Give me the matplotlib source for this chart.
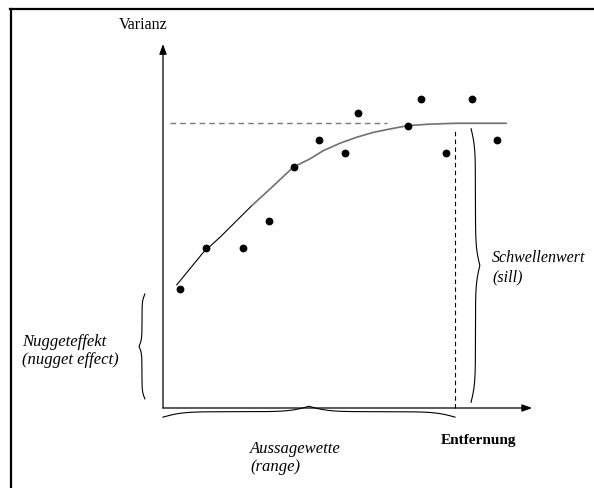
import numpy as np
import matplotlib.pyplot as plt
from matplotlib.lines import Line2D

# empirical semivariogram points (distance, variance)
dist = [0.58, 1.46, 2.75, 3.62, 4.50, 5.35, 6.23, 6.67, 8.40, 8.84, 9.69, 10.58, 11.45]
varianz = [4.18, 5.60, 5.60, 6.56, 8.47, 9.40, 8.95, 10.35, 9.91, 10.85, 8.95, 10.85, 9.40]

# fitted model curve
model_h = [0.47, 1.38, 1.95, 2.52, 3.04, 3.66, 4.46, 5.03, 5.49, 6.06, 6.63, 7.20,
           7.77, 8.40, 9.14, 10.00, 11.75]
model_g = [4.32, 5.46, 5.99, 6.57, 7.10, 7.68, 8.45, 8.74, 9.03, 9.29, 9.50, 9.67,
           9.79, 9.91, 9.96, 9.99, 9.99]

nugget = 4.0
sill = 10.0
reichweite = 10.0

serif = ['Liberation Serif', 'DejaVu Serif']


def brace(ax, p0, p1, depth, beta=30, **kw):
    # curly brace from p0 to p1, bulging to the side given by the sign of depth
    p0, p1 = np.asarray(p0, float), np.asarray(p1, float)
    t = np.linspace(0, 0.5, 100)
    half = 1 / (1 + np.exp(-beta * (t - t[0]))) + 1 / (1 + np.exp(-beta * (t - t[-1])))
    off = np.concatenate([half, half[-2::-1]])
    off = (off - off[0]) / (off.max() - off[0])
    s = np.linspace(0, 1, len(off))
    d = p1 - p0
    n = np.array([-d[1], d[0]]) / np.hypot(*d)
    pts = p0 + np.outer(s, d) + np.outer(off * depth, n)
    ax.plot(pts[:, 0], pts[:, 1], **kw)


fig = plt.figure(figsize=(5.94, 4.89), dpi=100)
ax = fig.add_axes([0, 0, 1, 1])
ax.set_xlim(-5.582, 14.760)
ax.set_ylim(-2.807, 14.351)
ax.axis('off')

# outer frame (top and left only)
fig.add_artist(Line2D([10 / 594, 1], [1 - 9.5 / 489] * 2, transform=fig.transFigure,
                      color='black', lw=1.6))
fig.add_artist(Line2D([11 / 594] * 2, [0, 1 - 9.5 / 489], transform=fig.transFigure,
                      color='black', lw=1.6))

# axes with arrows
arrow = dict(arrowstyle='-|>,head_length=0.6,head_width=0.22', color='black', lw=0.9,
             shrinkA=0, shrinkB=0)
ax.annotate('', xy=(0, 12.77), xytext=(0, 0), arrowprops=arrow)
ax.annotate('', xy=(12.64, 0), xytext=(0, 0), arrowprops=arrow)

# sill and range guide lines
ax.plot([0.24, 7.67], [sill, sill], color='#7a7a7a', lw=1, dashes=(4, 3))
ax.plot([reichweite, reichweite], [0, 9.79], color='black', lw=0.8, dashes=(4, 3))

# model curve
ax.plot(model_h[:5], model_g[:5], color='black', lw=0.8)
ax.plot(model_h[4:], model_g[4:], color='#707070', lw=1.2)

# data points
ax.plot(dist, varianz, 'o', color='black', markersize=4.6, linestyle='none')

# braces
brace(ax, (10.55, 0.2), (10.55, 9.8), -0.3, color='black', lw=0.8)
brace(ax, (-0.62, 0.32), (-0.62, nugget), 0.2, color='black', lw=0.8)
brace(ax, (0, -0.32), (reichweite, -0.32), 0.38, color='black', lw=0.8)

# labels
ax.text(-0.68, 13.47, 'Varianz', family=serif, fontsize=11.5, ha='center', va='center')
ax.text(10.79, -1.09, 'Entfernung', family=serif, fontsize=11, weight='bold',
        ha='center', va='center')
ax.text(11.27, 4.96, 'Schwellenwert\n(sill)', family=serif, style='italic', fontsize=11.5,
        ha='left', va='center', linespacing=1.25)
ax.text(-4.83, 2.04, 'Nuggeteffekt\n(nugget effect)', family=serif, style='italic',
        fontsize=12, ha='left', va='center', linespacing=1.15)
ax.text(2.98, -1.72, 'Aussagewette\n(range)', family=serif, style='italic', fontsize=12,
        ha='left', va='center', linespacing=1.15)

fig.savefig('out.png', dpi=100)
